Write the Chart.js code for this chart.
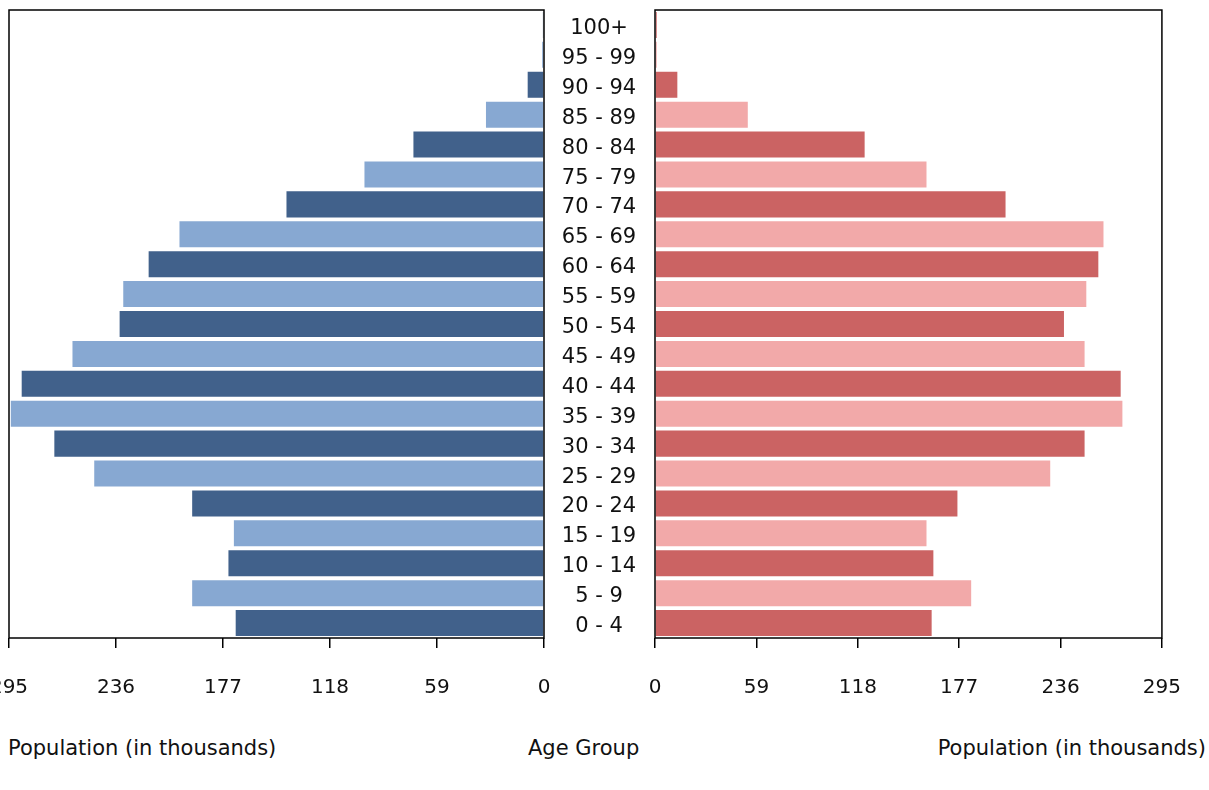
<!DOCTYPE html>
<html>
<head>
<meta charset="utf-8">
<script src="https://cdn.jsdelivr.net/npm/chart.js@4.4.1/dist/chart.umd.min.js"></script>
<style>
body{margin:0;width:1209px;height:790px;overflow:hidden;background:#fff;position:relative;font-family:"DejaVu Sans",sans-serif;}
.wrap{position:absolute;top:0;height:710px;}
.age{position:absolute;left:540px;width:118px;text-align:center;font-size:21px;color:#111;}
.lab{position:absolute;top:736px;font-size:21px;color:#111;}
</style>
</head>
<body>
<div class="wrap" style="left:-11px;width:575px"><canvas id="maleCanvas"></canvas></div>
<div class="wrap" style="left:615px;width:594px"><canvas id="femaleCanvas"></canvas></div>
<div id="ages"></div>
<div class="lab" style="left:8px">Population (in thousands)</div>
<div class="lab" style="left:528px">Age Group</div>
<div class="lab" style="right:3px">Population (in thousands)</div>
<script>
// age groups from youngest to oldest
var ageGroups=['0 - 4','5 - 9','10 - 14','15 - 19','20 - 24','25 - 29','30 - 34','35 - 39','40 - 44','45 - 49','50 - 54','55 - 59','60 - 64','65 - 69','70 - 74','75 - 79','80 - 84','85 - 89','90 - 94','95 - 99','100+'];
var maleValues=[170,194,174,171,194,248,270,294,288,260,234,232,218,201,142,99,72,32,9,1,0.6];
var femaleValues=[161,184,162,158,176,230,250,272,271,250,238,251,258,261,204,158,122,54,13,1,1];
var tickValues=[0,59,118,177,236,295];

var maleColors=[],femaleColors=[];
for(var i in ageGroups){
	maleColors.push(i%2==0 ? '#41618b' : '#87a8d2');
	femaleColors.push(i%2==0 ? '#cb6363' : '#f2a9a9');
}

// age labels in the middle
var agesDiv=document.getElementById('ages');
for(var i=0;i<ageGroups.length;i++){
	var d=document.createElement('div');
	d.className='age';
	d.textContent=ageGroups[i];
	d.style.top=(10+(ageGroups.length-1-i)*29.9+5)+'px';
	agesDiv.appendChild(d);
}

var frame={
	id:'frame',
	afterDraw:function(chart){
		var a=chart.chartArea,c=chart.ctx;
		c.save();
		c.strokeStyle='#000';
		c.lineWidth=1.5;
		c.strokeRect(a.left,a.top,a.right-a.left,a.bottom-a.top);
		c.restore();
	}
};

function makeChart(id,values,colors,reverse,padL,padR){
	return new Chart(document.getElementById(id),{
		type:'bar',
		data:{labels:ageGroups,datasets:[{data:values,backgroundColor:colors,barPercentage:0.87,categoryPercentage:1}]},
		options:{
			indexAxis:'y',
			responsive:false,
			animation:false,
			layout:{padding:{left:padL,right:padR,top:10,bottom:0}},
			plugins:{legend:{display:false},tooltip:{enabled:false}},
			scales:{
				y:{display:false,reverse:true},
				x:{
					min:0,max:295,reverse:reverse,
					afterBuildTicks:function(s){s.ticks=tickValues.map(function(v){return {value:v};});},
					afterFit:function(s){s.height=72;},
					grid:{drawOnChartArea:false,drawTicks:true,tickLength:10,color:'#000',lineWidth:1.5},
					border:{display:false},
					ticks:{color:'#111',font:{family:'DejaVu Sans',size:20},padding:28,maxRotation:0,autoSkip:false}
				}
			}
		},
		plugins:[frame]
	});
}
document.getElementById('maleCanvas').width=575;
document.getElementById('maleCanvas').height=710;
document.getElementById('femaleCanvas').width=594;
document.getElementById('femaleCanvas').height=710;
makeChart('maleCanvas',maleValues,maleColors,true,20,20);
makeChart('femaleCanvas',femaleValues,femaleColors,false,40,19);
</script>
</body>
</html>
